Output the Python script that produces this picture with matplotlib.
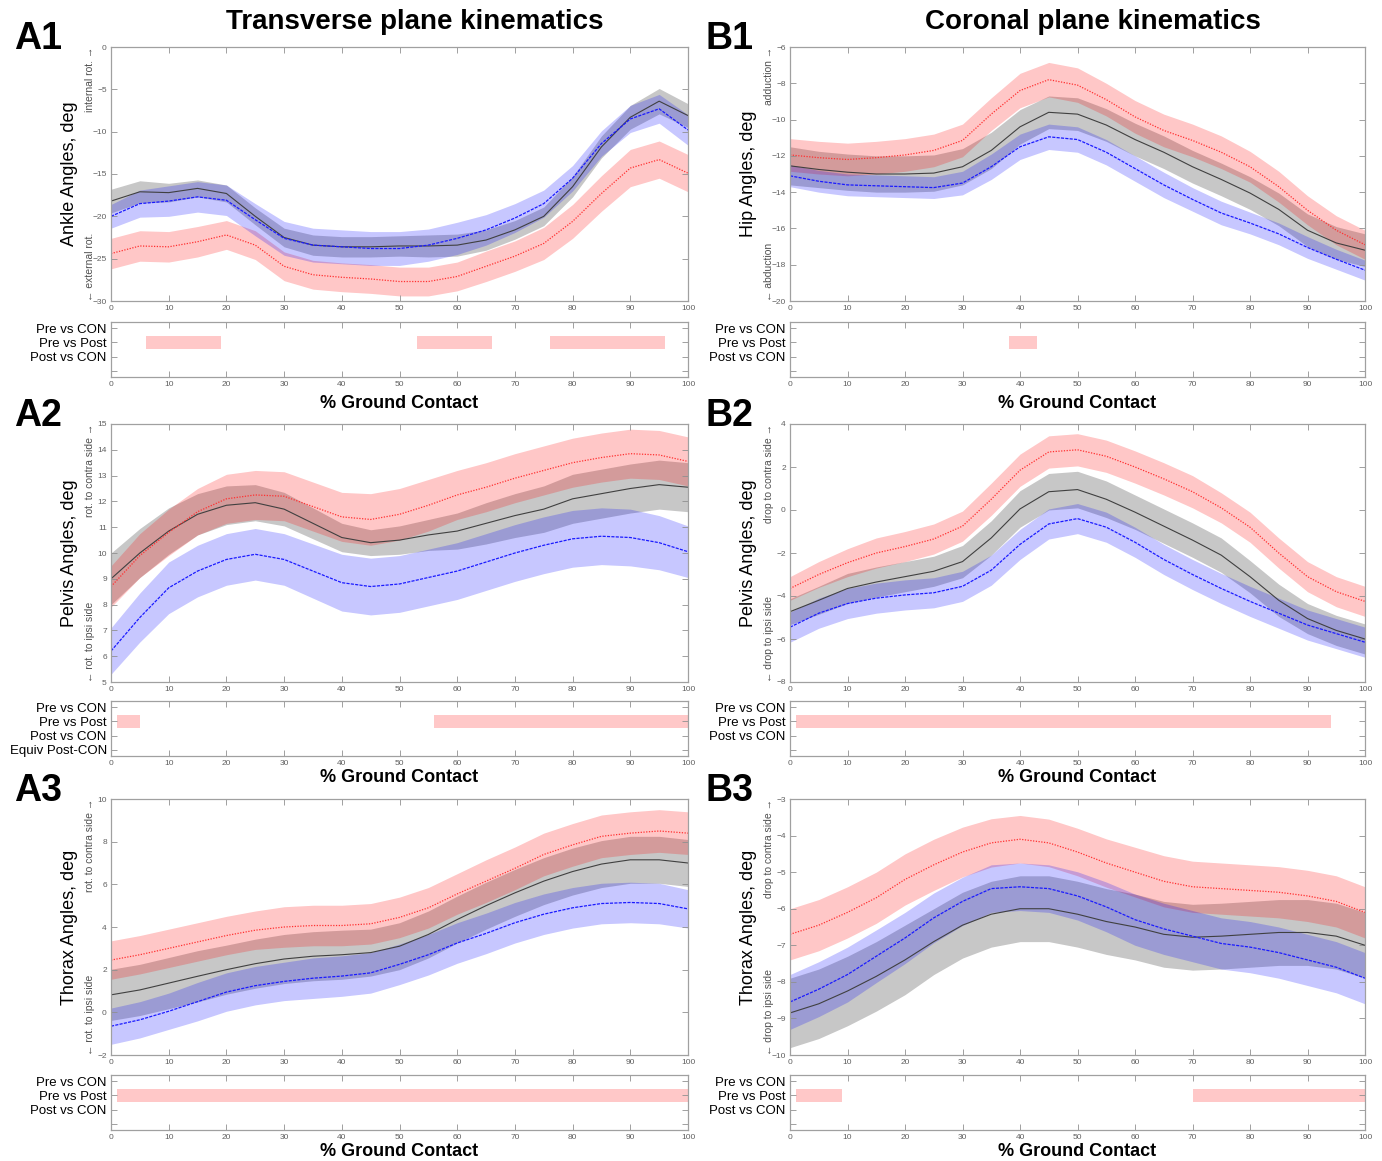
import matplotlib
matplotlib.use("Agg")
import matplotlib.pyplot as plt
import numpy as np

plt.rcParams['font.family'] = ['Liberation Sans', 'DejaVu Sans']
NARROW = ['Liberation Sans Narrow', 'Liberation Sans', 'DejaVu Sans']

pct = [0, 5, 10, 15, 20, 25, 30, 35, 40, 45, 50, 55, 60, 65, 70, 75, 80, 85, 90, 95, 100]

# A1 ankle, transverse
a1_pre = [-24.4, -23.5, -23.6, -23.0, -22.2, -23.4, -25.9, -26.9, -27.2, -27.4, -27.7, -27.7, -27.1, -25.9, -24.7, -23.2, -20.6, -17.3, -14.3, -13.3, -14.9]
a1_pre_sd = [1.8, 1.8, 1.8, 1.8, 1.7, 1.7, 1.7, 1.7, 1.7, 1.7, 1.7, 1.7, 1.7, 1.8, 1.8, 1.9, 2.0, 2.1, 2.2, 2.2, 2.2]
a1_post = [-20.0, -18.5, -18.2, -17.7, -18.1, -20.4, -22.6, -23.4, -23.6, -23.8, -23.8, -23.4, -22.6, -21.6, -20.2, -18.5, -15.5, -11.4, -8.5, -7.3, -9.8]
a1_post_sd = [1.4, 1.6, 1.8, 1.8, 1.8, 1.9, 2.0, 2.0, 2.0, 2.0, 2.0, 1.9, 1.9, 1.8, 1.7, 1.6, 1.5, 1.5, 1.6, 1.7, 1.8]
a1_con = [-18.2, -17.1, -17.2, -16.7, -17.3, -20.0, -22.5, -23.4, -23.6, -23.6, -23.5, -23.5, -23.4, -22.8, -21.6, -20.0, -16.5, -11.8, -8.3, -6.4, -8.1]
a1_con_sd = [1.4, 1.3, 1.1, 1.0, 1.0, 1.0, 1.1, 1.2, 1.2, 1.2, 1.2, 1.3, 1.3, 1.2, 1.1, 1.1, 1.2, 1.3, 1.4, 1.5, 1.4]

# B1 hip, coronal
b1_pre = [-11.95, -12.1, -12.2, -12.1, -11.95, -11.7, -11.15, -9.7, -8.4, -7.8, -8.1, -8.9, -9.85, -10.6, -11.15, -11.8, -12.6, -13.7, -15.0, -16.1, -16.9]
b1_pre_sd = [0.9, 0.9, 0.9, 0.9, 0.9, 0.9, 0.9, 0.9, 0.95, 0.95, 0.95, 0.9, 0.9, 0.9, 0.9, 0.9, 0.85, 0.85, 0.8, 0.8, 0.8]
b1_post = [-13.1, -13.4, -13.6, -13.65, -13.7, -13.75, -13.5, -12.6, -11.5, -10.95, -11.1, -11.8, -12.7, -13.6, -14.4, -15.15, -15.7, -16.3, -17.05, -17.7, -18.3]
b1_post_sd = [0.6, 0.6, 0.6, 0.6, 0.6, 0.6, 0.65, 0.7, 0.7, 0.7, 0.7, 0.7, 0.7, 0.7, 0.65, 0.65, 0.6, 0.6, 0.6, 0.55, 0.55]
b1_con = [-12.55, -12.75, -12.9, -13.0, -13.0, -12.95, -12.6, -11.7, -10.4, -9.6, -9.7, -10.3, -11.1, -11.8, -12.6, -13.3, -14.05, -14.95, -16.1, -16.8, -17.2]
b1_con_sd = [1.05, 1.0, 1.0, 1.0, 1.0, 1.0, 1.0, 1.0, 0.95, 0.9, 0.9, 0.9, 0.9, 0.9, 0.9, 0.9, 0.9, 0.9, 0.9, 0.9, 0.9]

# A2 pelvis, transverse
a2_pre = [8.7, 9.9, 10.8, 11.6, 12.1, 12.25, 12.2, 11.8, 11.4, 11.3, 11.5, 11.85, 12.25, 12.55, 12.9, 13.2, 13.5, 13.7, 13.85, 13.8, 13.55]
a2_pre_sd = [0.8, 0.85, 0.9, 0.9, 0.95, 0.95, 0.95, 0.95, 0.95, 1.0, 1.0, 1.0, 0.95, 0.95, 0.95, 0.95, 0.95, 0.95, 0.95, 0.95, 0.95]
a2_post = [6.2, 7.5, 8.65, 9.3, 9.75, 9.95, 9.75, 9.3, 8.85, 8.7, 8.8, 9.05, 9.3, 9.65, 10.0, 10.3, 10.55, 10.65, 10.6, 10.4, 10.05]
a2_post_sd = [0.9, 0.95, 1.0, 1.0, 1.0, 1.0, 1.0, 1.05, 1.1, 1.1, 1.1, 1.1, 1.1, 1.1, 1.1, 1.1, 1.1, 1.1, 1.1, 1.05, 1.0]
a2_con = [9.0, 10.0, 10.85, 11.5, 11.85, 11.95, 11.7, 11.15, 10.6, 10.4, 10.5, 10.7, 10.85, 11.15, 11.45, 11.7, 12.1, 12.3, 12.5, 12.65, 12.55]
a2_con_sd = [1.0, 0.95, 0.9, 0.8, 0.75, 0.7, 0.65, 0.6, 0.55, 0.5, 0.55, 0.6, 0.7, 0.8, 0.85, 0.9, 0.95, 0.95, 0.95, 0.95, 0.95]

# B2 pelvis, coronal
b2_pre = [-3.65, -3.0, -2.45, -2.0, -1.7, -1.35, -0.75, 0.5, 1.85, 2.7, 2.8, 2.5, 2.0, 1.45, 0.85, 0.1, -0.8, -2.0, -3.1, -3.8, -4.25]
b2_pre_sd = [0.55, 0.6, 0.65, 0.7, 0.7, 0.7, 0.7, 0.75, 0.75, 0.75, 0.75, 0.75, 0.75, 0.75, 0.75, 0.7, 0.7, 0.7, 0.7, 0.7, 0.7]
b2_post = [-5.45, -4.8, -4.35, -4.1, -3.95, -3.85, -3.55, -2.8, -1.6, -0.65, -0.4, -0.8, -1.5, -2.3, -3.0, -3.65, -4.25, -4.8, -5.35, -5.75, -6.15]
b2_post_sd = [0.7, 0.7, 0.7, 0.7, 0.7, 0.7, 0.7, 0.7, 0.7, 0.7, 0.7, 0.7, 0.7, 0.7, 0.7, 0.7, 0.7, 0.7, 0.7, 0.7, 0.7]
b2_con = [-4.73, -4.2, -3.65, -3.35, -3.1, -2.85, -2.4, -1.3, 0.05, 0.85, 0.95, 0.5, -0.1, -0.75, -1.4, -2.1, -3.1, -4.2, -5.05, -5.6, -6.0]
b2_con_sd = [0.6, 0.65, 0.7, 0.7, 0.7, 0.7, 0.75, 0.8, 0.85, 0.85, 0.85, 0.85, 0.8, 0.8, 0.8, 0.8, 0.75, 0.75, 0.7, 0.7, 0.7]

# A3 thorax, transverse
a3_pre = [2.45, 2.7, 3.0, 3.3, 3.6, 3.85, 4.0, 4.07, 4.07, 4.15, 4.45, 4.9, 5.55, 6.15, 6.75, 7.4, 7.85, 8.25, 8.4, 8.5, 8.4]
a3_pre_sd = [0.9, 0.9, 0.9, 0.9, 0.9, 0.9, 0.95, 0.95, 0.95, 0.95, 0.95, 0.95, 0.95, 1.0, 1.0, 1.0, 1.0, 1.0, 1.0, 1.0, 1.0]
a3_post = [-0.65, -0.35, 0.05, 0.5, 0.95, 1.25, 1.45, 1.6, 1.7, 1.85, 2.25, 2.7, 3.25, 3.7, 4.2, 4.6, 4.9, 5.1, 5.15, 5.1, 4.85]
a3_post_sd = [0.85, 0.85, 0.85, 0.9, 0.9, 0.9, 0.9, 0.95, 0.95, 0.95, 0.95, 0.95, 0.95, 0.95, 0.95, 0.95, 0.95, 0.95, 0.95, 0.95, 0.9]
a3_con = [0.82, 1.05, 1.37, 1.69, 2.0, 2.28, 2.5, 2.63, 2.7, 2.8, 3.1, 3.65, 4.35, 5.0, 5.6, 6.15, 6.6, 6.95, 7.15, 7.15, 7.0]
a3_con_sd = [1.2, 1.2, 1.2, 1.2, 1.15, 1.15, 1.15, 1.15, 1.15, 1.1, 1.1, 1.1, 1.1, 1.1, 1.1, 1.1, 1.1, 1.1, 1.1, 1.1, 1.1]

# B3 thorax, coronal
b3_pre = [-6.7, -6.45, -6.1, -5.7, -5.2, -4.8, -4.45, -4.2, -4.1, -4.2, -4.45, -4.75, -5.0, -5.25, -5.4, -5.45, -5.5, -5.55, -5.65, -5.8, -6.1]
b3_pre_sd = [0.7, 0.7, 0.7, 0.7, 0.7, 0.7, 0.68, 0.66, 0.65, 0.65, 0.65, 0.66, 0.68, 0.7, 0.7, 0.7, 0.7, 0.7, 0.7, 0.7, 0.7]
b3_post = [-8.55, -8.2, -7.8, -7.3, -6.8, -6.25, -5.8, -5.45, -5.4, -5.45, -5.65, -5.95, -6.3, -6.55, -6.75, -6.95, -7.05, -7.2, -7.4, -7.6, -7.9]
b3_post_sd = [0.75, 0.75, 0.75, 0.72, 0.7, 0.68, 0.66, 0.65, 0.65, 0.65, 0.66, 0.68, 0.7, 0.7, 0.7, 0.7, 0.7, 0.7, 0.7, 0.7, 0.7]
b3_con = [-8.85, -8.6, -8.25, -7.85, -7.4, -6.9, -6.45, -6.15, -6.0, -6.0, -6.15, -6.35, -6.5, -6.7, -6.78, -6.75, -6.7, -6.65, -6.65, -6.75, -7.0]
b3_con_sd = [0.95, 0.95, 0.95, 0.95, 0.95, 0.9, 0.9, 0.9, 0.9, 0.9, 0.9, 0.9, 0.9, 0.9, 0.9, 0.9, 0.9, 0.9, 0.9, 0.9, 0.9]

# significant regions, Pre vs Post (start %, end %)
a1_sig = [(6, 19), (53, 66), (76, 96)]
b1_sig = [(38, 43)]
a2_sig = [(1, 5), (56, 100)]
b2_sig = [(1, 94)]
a3_sig = [(1, 100)]
b3_sig = [(1, 9), (70, 100)]

sig_rows = ['Pre vs CON', 'Pre vs Post', 'Post vs CON', '']
sig_rows_a2 = ['Pre vs CON', 'Pre vs Post', 'Post vs CON', 'Equiv Post-CON']

W, H = 1382, 1161
fig = plt.figure(figsize=(W / 100, H / 100), dpi=100)


def box(l, t, r, b):
    return [l / W, 1 - b / H, (r - l) / W, (b - t) / H]


def style(ax):
    for s in ax.spines.values():
        s.set_color('#a0a0a0')
        s.set_linewidth(0.9)
    ax.tick_params(direction='in', length=4, width=0.6, color='#909090',
                   labelsize=6, labelcolor='#606060', top=True, right=True, pad=3)
    ax.set_xlim(0, 100)
    ax.set_xticks(range(0, 101, 10))


def main_panel(rect, pre, pre_sd, post, post_sd, con, con_sd, ylim, yticks, ylab, up, down):
    ax = fig.add_axes(rect)
    x = np.array(pct)
    for m, sd, c in [(con, con_sd, 'k'), (pre, pre_sd, 'r'), (post, post_sd, 'b')]:
        m = np.array(m)
        sd = np.array(sd)
        ax.fill_between(x, m - sd, m + sd, color=c, alpha=0.22, lw=0)
    ax.plot(x, con, color='#404040', lw=0.8, ls='-')
    ax.plot(x, pre, color='#ff3030', lw=0.9, ls=(0, (1, 1.2)))
    ax.plot(x, post, color='#1a1aff', lw=0.9, ls=(0, (2.5, 1)))
    ax.set_ylim(*ylim)
    ax.set_yticks(yticks)
    style(ax)
    ax.set_ylabel(ylab, fontsize=13)
    ax.yaxis.set_label_coords(-0.058, 0.5)
    ax.text(-0.036, 1.0, up + ' \u2192', transform=ax.transAxes, rotation=90,
            ha='center', va='top', fontsize=7.5, color='#505050', family=NARROW)
    ax.text(-0.036, 0.0, '\u2190 ' + down, transform=ax.transAxes, rotation=90,
            ha='center', va='bottom', fontsize=7.5, color='#505050', family=NARROW)
    return ax


def sig_panel(rect, spans, labels):
    ax = fig.add_axes(rect)
    for s, e in spans:
        ax.barh(2, e - s, left=s, height=0.9, color='#ffc8c8', lw=0)
    ax.set_ylim(4.45, 0.55)
    ax.set_yticks([1, 2, 3, 4])
    style(ax)
    ax.set_yticklabels(labels, fontsize=9.5, color='black', family=NARROW)
    ax.tick_params(axis='y', labelcolor='black', labelsize=9.5)
    return ax


cols = {'A': (111, 688), 'B': (790, 1365)}
rows = [((47, 301), (322, 377), 403), ((424, 682), (701, 756), 778), ((799, 1055), (1075, 1130), 1151)]

panels = [
    ('A', 0, a1_pre, a1_pre_sd, a1_post, a1_post_sd, a1_con, a1_con_sd, (-30, 0), range(-30, 1, 5),
     'Ankle Angles, deg', 'internal rot.', 'external rot.', a1_sig, sig_rows),
    ('B', 0, b1_pre, b1_pre_sd, b1_post, b1_post_sd, b1_con, b1_con_sd, (-20, -6), range(-20, -5, 2),
     'Hip Angles, deg', 'adduction', 'abduction', b1_sig, sig_rows),
    ('A', 1, a2_pre, a2_pre_sd, a2_post, a2_post_sd, a2_con, a2_con_sd, (5, 15), range(5, 16, 1),
     'Pelvis Angles, deg', 'rot. to contra side', 'rot. to ipsi side', a2_sig, sig_rows_a2),
    ('B', 1, b2_pre, b2_pre_sd, b2_post, b2_post_sd, b2_con, b2_con_sd, (-8, 4), range(-8, 5, 2),
     'Pelvis Angles, deg', 'drop to contra side', 'drop to ipsi side', b2_sig, sig_rows),
    ('A', 2, a3_pre, a3_pre_sd, a3_post, a3_post_sd, a3_con, a3_con_sd, (-2, 10), range(-2, 11, 2),
     'Thorax Angles, deg', 'rot. to contra side', 'rot. to ipsi side', a3_sig, sig_rows),
    ('B', 2, b3_pre, b3_pre_sd, b3_post, b3_post_sd, b3_con, b3_con_sd, (-10, -3), range(-10, -2, 1),
     'Thorax Angles, deg', 'drop to contra side', 'drop to ipsi side', b3_sig, sig_rows),
]

for col, r, pre, pre_sd, post, post_sd, con, con_sd, ylim, yt, ylab, up, down, sig, labs in panels:
    l, rr = cols[col]
    (mt, mb), (st, sb), xl = rows[r]
    main_panel(box(l, mt, rr, mb), pre, pre_sd, post, post_sd, con, con_sd, ylim, yt, ylab, up, down)
    sig_panel(box(l, st, rr, sb), sig, labs)
    fig.text((l + rr) / 2 / W, 1 - xl / H, '% Ground Contact', ha='center', va='center',
             fontsize=13, fontweight='bold', family=NARROW)
    lx = 14 if col == 'A' else 705
    fig.text(lx / W, 1 - (mt - 8) / H, col + str(r + 1), ha='left', va='center',
             fontsize=27, fontweight='bold')

fig.text(415 / W, 1 - 22 / H, 'Transverse plane kinematics', ha='center', va='center',
         fontsize=20, fontweight='bold', family=NARROW)
fig.text(1093 / W, 1 - 22 / H, 'Coronal plane kinematics', ha='center', va='center',
         fontsize=20, fontweight='bold', family=NARROW)

fig.savefig('out.png', dpi=100)
